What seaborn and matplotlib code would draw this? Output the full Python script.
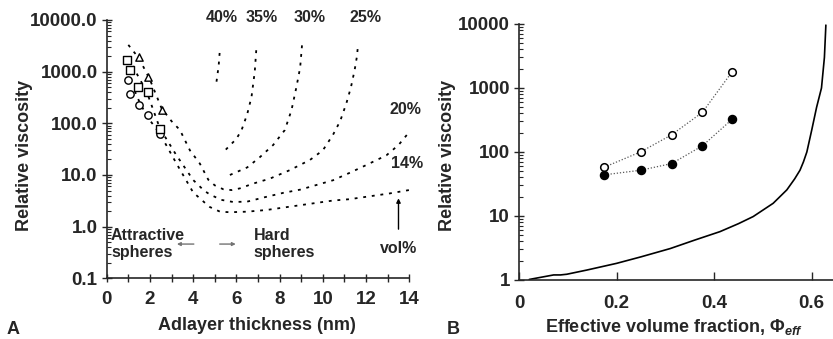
import matplotlib
matplotlib.use("Agg")
import matplotlib.pyplot as plt
import matplotlib.ticker as mticker
import numpy as np
import pandas as pd
import seaborn as sns

# ---------------- Panel A data ----------------
# experimental points (adlayer thickness nm, relative viscosity)
circ_x = [0.97, 1.08, 1.51, 1.89, 2.48]
circ_y = [680, 370, 225, 142, 61]
sq_x = [0.95, 1.08, 1.46, 1.91, 2.48]
sq_y = [1650, 1090, 500, 410, 79]
tri_x = [1.48, 1.92, 2.57]
tri_y = [1900, 780, 185]

# model curves per volume fraction
c14_x = [1.3, 1.54, 1.9, 2.46, 3.23, 4.0, 4.5, 4.77, 5.24, 5.7, 6.5, 7.39, 8.95, 10.47, 11.24, 13.1, 14.1]
c14_y = [420, 245, 130, 63, 16.6, 4.6, 3.0, 2.4, 1.95, 1.9, 1.95, 2.1, 2.6, 3.2, 3.4, 4.4, 5.2]
c20_x = [1.0, 1.4, 1.85, 2.46, 3.2, 4.0, 4.5, 4.77, 5.3, 5.85, 6.5, 7.3, 8.16, 8.95, 10.47, 11.24, 12.0, 12.94, 13.5, 14.0]
c20_y = [1800, 900, 410, 80, 25, 8.0, 5.0, 4.2, 3.3, 3.0, 3.05, 3.7, 4.5, 5.2, 7.9, 11, 15.5, 24, 38, 68]
c25_x = [1.0, 1.5, 2.0, 2.54, 3.0, 3.39, 3.85, 4.31, 4.7, 5.0, 5.39, 5.78, 6.16, 6.77, 7.55, 8.47,
         9.4, 10.0, 10.47, 10.8, 11.09, 11.3, 11.47, 11.58, 11.63]
c25_y = [3300, 1800, 700, 195, 110, 74, 30, 16.6, 8.1, 6.3, 5.3, 5.1, 5.5, 6.8, 8.5, 12.4,
         19.5, 30, 60, 110, 245, 500, 1070, 2000, 3400]
c30_x = [5.7, 6.5, 7.08, 7.7, 8.24, 8.55, 8.78, 8.95, 9.04]
c30_y = [10, 14, 22, 38, 74, 180, 510, 1200, 3400]
c35_x = [5.51, 6.0, 6.24, 6.5, 6.70, 6.85, 6.93]
c35_y = [31, 50, 74, 150, 325, 1000, 3030]
c40_x = [5.08, 5.18, 5.24]
c40_y = [640, 1300, 2800]

pct_labels = ["40%", "35%", "30%", "25%", "20%", "14%"]
pct_x = [5.33, 7.18, 9.4, 11.98, 13.8, 13.9]
pct_y = [11000, 11000, 11000, 11000, 182, 17]

# ---------------- Panel B data ----------------
open_x = [0.175, 0.250, 0.313, 0.376, 0.437]
open_y = [58, 101, 186, 417, 1800]
fill_x = [0.175, 0.250, 0.313, 0.376, 0.437]
fill_y = [44, 52, 66, 125, 325]
hs_x = [0.021, 0.071, 0.085, 0.098, 0.139, 0.200, 0.250, 0.310, 0.360, 0.412, 0.450, 0.480, 0.521,
        0.549, 0.565, 0.576, 0.583, 0.590, 0.600, 0.610, 0.620, 0.626, 0.629]
hs_y = [1.02, 1.2, 1.2, 1.23, 1.43, 1.82, 2.3, 3.1, 4.2, 5.7, 7.6, 9.8, 15.8,
        25.6, 38, 52, 70, 100, 220, 500, 1000, 3000, 9600]

sns.set_style("ticks")
plt.rcParams["font.family"] = ["Liberation Sans", "DejaVu Sans"]
plt.rcParams["font.weight"] = "bold"
plt.rcParams["axes.labelweight"] = "bold"
plt.rcParams["mathtext.fontset"] = "custom"
plt.rcParams["mathtext.rm"] = "Liberation Sans:bold"
plt.rcParams["mathtext.it"] = "Liberation Sans:italic:bold"
plt.rcParams["mathtext.bf"] = "Liberation Sans:bold"

W, H = 833, 339
fig = plt.figure(figsize=(W / 100, H / 100), dpi=100)

def rect(l, t, r, b):
    return [l / W, 1 - b / H, (r - l) / W, (b - t) / H]

axA = fig.add_axes(rect(106.7, 20, 409.3, 278.3))
axB = fig.add_axes(rect(519, 24, 832.7, 280))

TICK = 13.5
LAB = 13
ANN = 11.5
dot = (0, (1.6, 3.2))

# ---- Panel A ----
for cx, cy in [(c14_x, c14_y), (c20_x, c20_y), (c25_x, c25_y), (c30_x, c30_y), (c35_x, c35_y), (c40_x, c40_y)]:
    df = pd.DataFrame({"x": cx, "y": cy})
    sns.lineplot(data=df, x="x", y="y", ax=axA, sort=False, color="black",
                 lw=1.3, linestyle=dot, estimator=None)

for mx, my, mk in [(circ_x, circ_y, "o"), (sq_x, sq_y, "s"), (tri_x, tri_y, "^")]:
    df = pd.DataFrame({"x": mx, "y": my})
    sns.scatterplot(data=df, x="x", y="y", ax=axA, marker=mk, s=28,
                    facecolor="white", edgecolor="black", linewidth=1.0, zorder=3)

axA.set_yscale("log")
axA.set_xlim(0, 14)
axA.set_ylim(0.1, 10000)
axA.xaxis.set_major_locator(mticker.MultipleLocator(2))
axA.xaxis.set_minor_locator(mticker.MultipleLocator(1))
axA.yaxis.set_major_locator(mticker.LogLocator(base=10, numticks=10))
axA.yaxis.set_minor_locator(mticker.LogLocator(base=10, subs=np.arange(2, 10), numticks=10))
axA.yaxis.set_major_formatter(mticker.FuncFormatter(lambda v, p: f"{v:.1f}"))
axA.yaxis.set_minor_formatter(mticker.NullFormatter())
axA.tick_params(axis="x", which="both", direction="inout", length=6, width=1, labelsize=TICK, pad=6)
axA.tick_params(axis="y", which="major", direction="inout", length=7, width=1, labelsize=TICK, pad=3)
axA.tick_params(axis="y", which="minor", direction="in", length=3, width=0.8)
for lbl in axA.get_xticklabels() + axA.get_yticklabels():
    lbl.set_fontweight("bold")
sns.despine(ax=axA)
axA.spines["left"].set_linewidth(1.2)
axA.spines["bottom"].set_linewidth(1.2)
axA.set_xlabel("Adlayer thickness (nm)", fontsize=LAB, fontweight="bold", va="center")
axA.set_ylabel("Relative viscosity", fontsize=LAB, fontweight="bold", va="center")
axA.xaxis.set_label_coords(0.498, -0.181)
axA.yaxis.set_label_coords(-0.27, 0.477)

for t, x, y in zip(pct_labels, pct_x, pct_y):
    axA.text(x, y, t, ha="center", va="center", fontsize=ANN, fontweight="bold", clip_on=False)

axA.text(0.2, 0.46, "Attractive\nspheres", ha="left", va="center", fontsize=ANN,
         fontweight="bold", linespacing=1.15)
axA.text(6.8, 0.46, "Hard\nspheres", ha="left", va="center", fontsize=ANN,
         fontweight="bold", linespacing=1.15)
axA.annotate("", xy=(3.12, 0.46), xytext=(4.16, 0.46),
             arrowprops=dict(arrowstyle="-|>", color="0.45", lw=1.0, mutation_scale=5))
axA.annotate("", xy=(6.10, 0.46), xytext=(5.10, 0.46),
             arrowprops=dict(arrowstyle="-|>", color="0.45", lw=1.0, mutation_scale=5))
axA.text(13.5, 0.38, "vol%", ha="center", va="center", fontsize=ANN, fontweight="bold", clip_on=False)
axA.annotate("", xy=(13.5, 4.0), xytext=(13.5, 0.79),
             arrowprops=dict(arrowstyle="-|>", color="black", lw=1.0, mutation_scale=6))

# ---- Panel B ----
sns.lineplot(data=pd.DataFrame({"x": hs_x, "y": hs_y}), x="x", y="y", ax=axB, sort=False,
             color="black", lw=1.2, estimator=None)
sns.lineplot(data=pd.DataFrame({"x": open_x, "y": open_y}), x="x", y="y", ax=axB, sort=False,
             color="0.35", lw=0.9, linestyle=(0, (1, 1.5)), estimator=None)
sns.lineplot(data=pd.DataFrame({"x": fill_x, "y": fill_y}), x="x", y="y", ax=axB, sort=False,
             color="0.35", lw=0.9, linestyle=(0, (1, 1.5)), estimator=None)
sns.scatterplot(data=pd.DataFrame({"x": open_x, "y": open_y}), x="x", y="y", ax=axB, marker="o",
                s=30, facecolor="white", edgecolor="black", linewidth=1.1, zorder=3)
sns.scatterplot(data=pd.DataFrame({"x": fill_x, "y": fill_y}), x="x", y="y", ax=axB, marker="o",
                s=34, facecolor="black", edgecolor="black", linewidth=1.0, zorder=3)

axB.set_yscale("log")
axB.set_xlim(0, 0.643)
axB.set_ylim(1, 10000)
axB.xaxis.set_major_locator(mticker.FixedLocator([0, 0.2, 0.4, 0.6]))
axB.xaxis.set_major_formatter(mticker.FuncFormatter(lambda v, p: "0" if v == 0 else f"{v:.1f}"))
axB.yaxis.set_major_locator(mticker.LogLocator(base=10, numticks=10))
axB.yaxis.set_minor_locator(mticker.LogLocator(base=10, subs=np.arange(2, 10), numticks=10))
axB.yaxis.set_major_formatter(mticker.FuncFormatter(lambda v, p: f"{v:.0f}"))
axB.yaxis.set_minor_formatter(mticker.NullFormatter())
axB.tick_params(axis="x", which="major", direction="in", length=6, width=1, labelsize=TICK, pad=11)
axB.tick_params(axis="y", which="major", direction="inout", length=7, width=1, labelsize=TICK, pad=3)
axB.tick_params(axis="y", which="minor", direction="in", length=3, width=0.8)
for lbl in axB.get_xticklabels() + axB.get_yticklabels():
    lbl.set_fontweight("bold")
sns.despine(ax=axB)
axB.spines["left"].set_linewidth(1.2)
axB.spines["bottom"].set_linewidth(1.2)
axB.set_xlabel(r"Effective volume fraction, $\Phi_{\mathit{eff}}$", fontsize=LAB,
               fontweight="bold", va="center")
axB.set_ylabel("Relative viscosity", fontsize=LAB, fontweight="bold", va="center")
axB.xaxis.set_label_coords(0.494, -0.182)
axB.yaxis.set_label_coords(-0.2295, 0.488)

fig.text(13 / W, 1 - 330 / H, "A", fontsize=LAB, fontweight="bold", ha="center", va="center")
fig.text(453 / W, 1 - 330 / H, "B", fontsize=LAB, fontweight="bold", ha="center", va="center")

fig.savefig("out.png", dpi=100)
